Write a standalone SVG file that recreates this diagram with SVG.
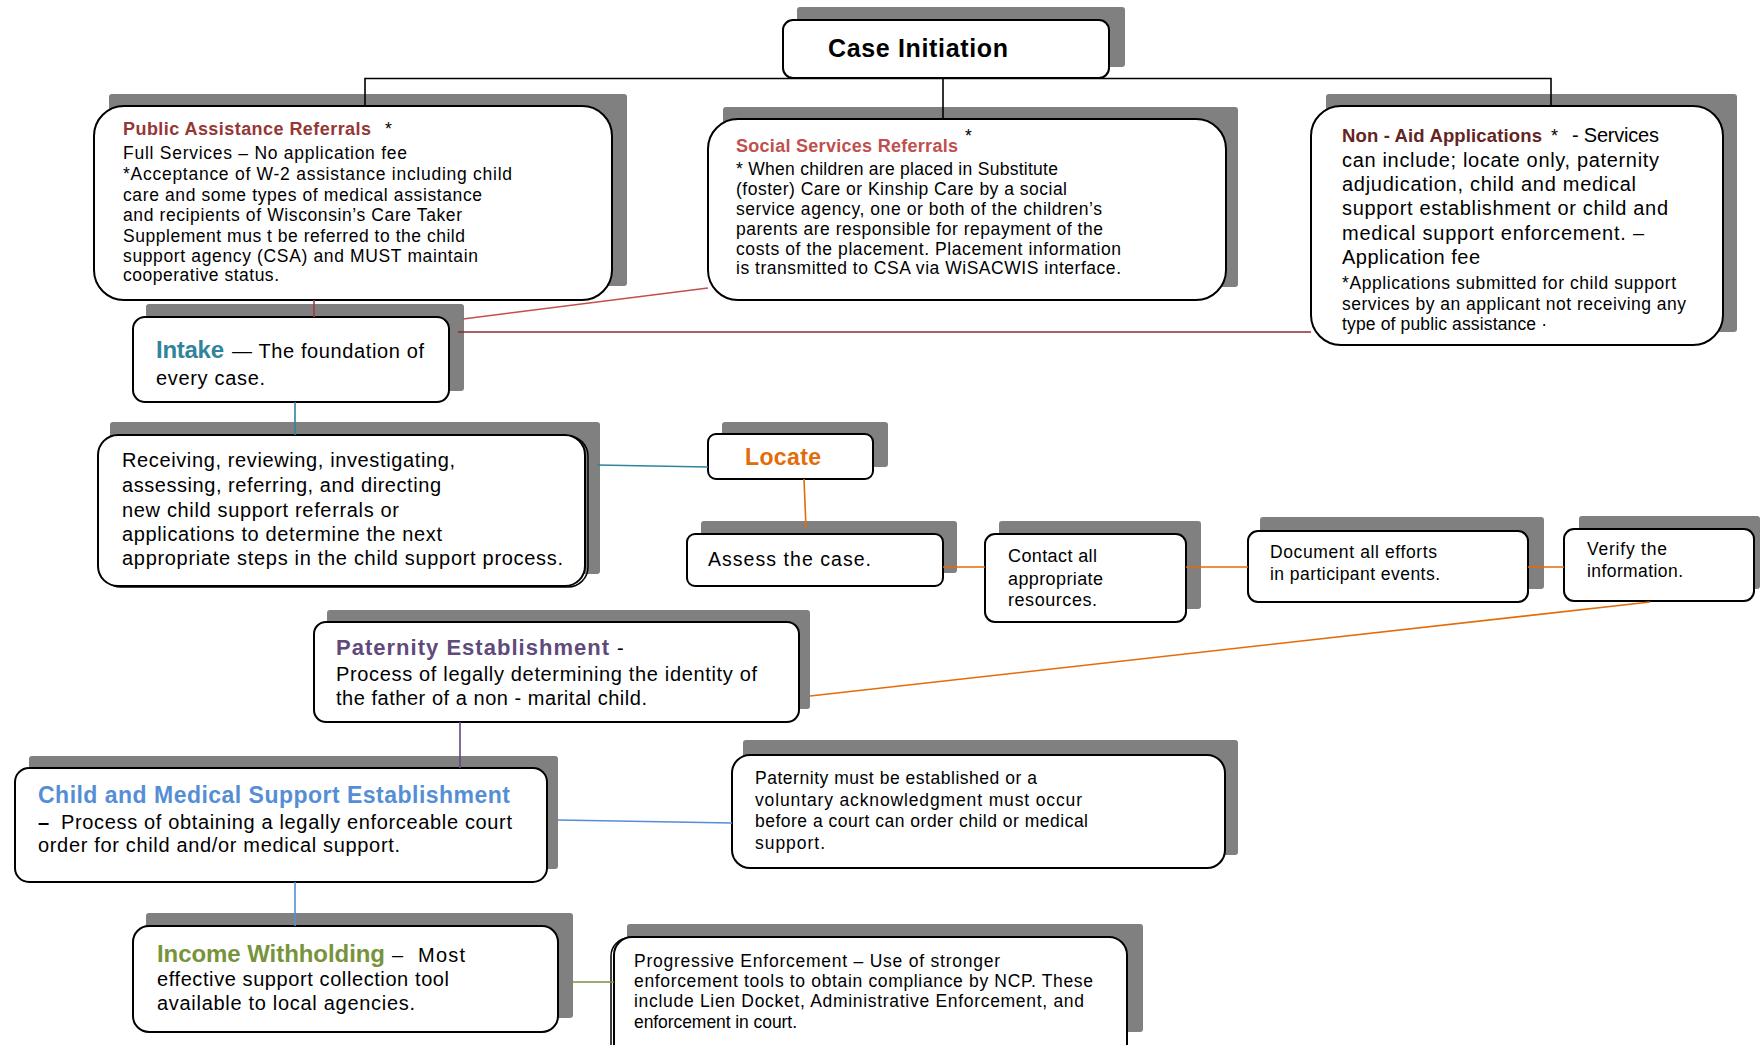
<svg xmlns="http://www.w3.org/2000/svg" width="1760" height="1045" viewBox="0 0 1760 1045">
<style>
.sh{fill:#808080}
.bx{fill:#fff;stroke:#000;stroke-width:2}
.ol{fill:none;stroke:#000;stroke-width:1.5}
text{font-family:"Liberation Sans",Arial,sans-serif;fill:#000}
.b{font-weight:bold}
.s16{font-size:17.5px}
.s17{font-size:18px}
.s19{font-size:20px}
.s23{font-size:23px}
.c{fill:none;stroke-width:1.6}
</style>
<rect width="1760" height="1045" fill="#fff"/>

<g id="case-initiation">
<rect class="sh" x="797" y="7" width="328" height="60" rx="3"/>
<rect class="bx" x="783" y="20" width="326" height="58" rx="10"/>
<text class="b" x="828" y="57" font-size="25" textLength="180" lengthAdjust="spacing">Case Initiation</text>
</g>

<g id="public-assistance">
<rect class="sh" x="109" y="94" width="518" height="192" rx="3"/>
<rect class="bx" x="94" y="106" width="518" height="194" rx="30"/>
<text class="b" x="123" y="135" font-size="18" style="fill:#953735" textLength="248" lengthAdjust="spacing">Public Assistance Referrals</text>
<text class="s16" x="385" y="135">*</text>
<text class="s16" x="123" y="159" textLength="284" lengthAdjust="spacing">Full Services –  No application fee</text>
<text class="s16" x="123" y="180" textLength="389" lengthAdjust="spacing">*Acceptance of  W-2 assistance including child</text>
<text class="s16" x="123" y="201" textLength="359" lengthAdjust="spacing">care and some types of medical assistance</text>
<text class="s16" x="123" y="221" textLength="339" lengthAdjust="spacing">and recipients of Wisconsin’s Care Taker</text>
<text class="s16" x="123" y="242" textLength="342" lengthAdjust="spacing">Supplement mus t be referred to the child</text>
<text class="s16" x="123" y="262" textLength="355" lengthAdjust="spacing">support agency (CSA) and MUST maintain</text>
<text class="s16" x="123" y="281" textLength="156" lengthAdjust="spacing">cooperative status.</text>
</g>

<g id="social-services">
<rect class="sh" x="723" y="107" width="515" height="180" rx="3"/>
<rect class="bx" x="708" y="119" width="518" height="181" rx="30"/>
<text class="b" x="736" y="152" font-size="18" style="fill:#C0504D" textLength="222" lengthAdjust="spacing">Social Services Referrals</text>
<text class="s16" x="965" y="142">*</text>
<text class="s16" x="736" y="175" textLength="322" lengthAdjust="spacing">* When children are placed in Substitute</text>
<text class="s16" x="736" y="195" textLength="331" lengthAdjust="spacing">(foster) Care or Kinship Care by a social</text>
<text class="s16" x="736" y="215" textLength="366" lengthAdjust="spacing">service agency, one or both of the children’s</text>
<text class="s16" x="736" y="235" textLength="367" lengthAdjust="spacing">parents are responsible for repayment of the</text>
<text class="s16" x="736" y="255" textLength="385" lengthAdjust="spacing">costs of the placement. Placement information</text>
<text class="s16" x="736" y="274" textLength="385" lengthAdjust="spacing">is transmitted to CSA via WiSACWIS interface.</text>
</g>

<g id="non-aid">
<rect class="sh" x="1326" y="94" width="411" height="238" rx="3"/>
<rect class="bx" x="1311" y="106" width="412" height="239" rx="30"/>
<text class="b" x="1342" y="142" font-size="18.5" style="fill:#632523" textLength="200" lengthAdjust="spacing">Non - Aid Applications</text>
<text class="s17" x="1551" y="142">*</text>
<text class="s19" x="1572" y="142" textLength="87" lengthAdjust="spacing">- Services</text>
<text class="s19" x="1342" y="167" textLength="317" lengthAdjust="spacing">can include; locate only, paternity</text>
<text class="s19" x="1342" y="191" textLength="294" lengthAdjust="spacing">adjudication, child and medical</text>
<text class="s19" x="1342" y="215" textLength="326" lengthAdjust="spacing">support establishment or child and</text>
<text class="s19" x="1342" y="240" textLength="302" lengthAdjust="spacing">medical support enforcement. –</text>
<text class="s19" x="1342" y="264" textLength="138" lengthAdjust="spacing">Application fee</text>
<text class="s16" x="1342" y="289" textLength="334" lengthAdjust="spacing">*Applications submitted for child support</text>
<text class="s16" x="1342" y="310" textLength="344" lengthAdjust="spacing">services by an applicant not receiving any</text>
<text class="s16" x="1342" y="330" textLength="205" lengthAdjust="spacing">type of public assistance ·</text>
</g>

<g id="intake">
<rect class="sh" x="146" y="304" width="318" height="87" rx="3"/>
<rect class="bx" x="133" y="317" width="316" height="85" rx="12"/>
<text class="b" x="156" y="358" font-size="24" style="fill:#31849B" textLength="68" lengthAdjust="spacing">Intake</text>
<text class="s19" x="232" y="358" textLength="192" lengthAdjust="spacing">— The foundation of</text>
<text class="s19" x="156" y="385" textLength="109" lengthAdjust="spacing">every case.</text>
</g>

<g id="intake-detail">
<rect class="sh" x="110" y="422" width="490" height="152" rx="3"/>
<rect class="ol" x="101" y="436" width="487" height="151" rx="20"/>
<rect class="bx" x="98" y="435" width="487" height="151" rx="20"/>
<text class="s19" x="122" y="467" textLength="333" lengthAdjust="spacing">Receiving, reviewing, investigating,</text>
<text class="s19" x="122" y="492" textLength="319" lengthAdjust="spacing">assessing, referring, and directing</text>
<text class="s19" x="122" y="517" textLength="277" lengthAdjust="spacing">new child support referrals or</text>
<text class="s19" x="122" y="541" textLength="320" lengthAdjust="spacing">applications to determine the next</text>
<text class="s19" x="122" y="565" textLength="441" lengthAdjust="spacing">appropriate steps in the child support process.</text>
</g>

<g id="locate">
<rect class="sh" x="722" y="422" width="166" height="45" rx="3"/>
<rect class="bx" x="708" y="434" width="165" height="45" rx="8"/>
<text class="b s23" x="745" y="465" style="fill:#E36C09" textLength="76" lengthAdjust="spacing">Locate</text>
</g>

<g id="assess">
<rect class="sh" x="701" y="521" width="256" height="52" rx="3"/>
<rect class="bx" x="687" y="534" width="256" height="52" rx="8"/>
<text x="708" y="566" font-size="19.5" textLength="163" lengthAdjust="spacing">Assess the case.</text>
</g>

<g id="contact">
<rect class="sh" x="999" y="521" width="202" height="88" rx="3"/>
<rect class="bx" x="985" y="534" width="201" height="88" rx="10"/>
<text class="s17" x="1008" y="562" textLength="89" lengthAdjust="spacing">Contact all</text>
<text class="s17" x="1008" y="585" textLength="95" lengthAdjust="spacing">appropriate</text>
<text class="s17" x="1008" y="606" textLength="89" lengthAdjust="spacing">resources.</text>
</g>

<g id="document">
<rect class="sh" x="1260" y="517" width="284" height="72" rx="3"/>
<rect class="bx" x="1248" y="531" width="280" height="71" rx="10"/>
<text class="s16" x="1270" y="558" textLength="167" lengthAdjust="spacing">Document all efforts</text>
<text class="s16" x="1270" y="580" textLength="170" lengthAdjust="spacing">in participant events.</text>
</g>

<g id="verify">
<rect class="sh" x="1579" y="516" width="181" height="73" rx="3"/>
<rect class="bx" x="1564" y="529" width="190" height="72" rx="10"/>
<text class="s16" x="1587" y="555" textLength="80" lengthAdjust="spacing">Verify the</text>
<text class="s16" x="1587" y="577" textLength="96" lengthAdjust="spacing">information.</text>
</g>

<g id="paternity">
<rect class="sh" x="327" y="610" width="483" height="99" rx="3"/>
<rect class="bx" x="314" y="622" width="485" height="100" rx="12"/>
<text class="b" x="336" y="655" font-size="22" style="fill:#604A7B" textLength="273" lengthAdjust="spacing">Paternity Establishment</text>
<text class="s19" x="617" y="655">-</text>
<text class="s19" x="336" y="681" textLength="421" lengthAdjust="spacing">Process of legally determining the identity of</text>
<text class="s19" x="336" y="705" textLength="311" lengthAdjust="spacing">the father of a non - marital child.</text>
</g>

<g id="child-medical">
<rect class="sh" x="29" y="756" width="529" height="113" rx="3"/>
<rect class="bx" x="15" y="768" width="532" height="114" rx="14"/>
<text class="b s23" x="38" y="803" style="fill:#558ED5" textLength="472" lengthAdjust="spacing">Child and Medical Support Establishment</text>
<text class="b s19" x="38" y="829">–</text>
<text class="s19" x="61" y="829" textLength="451" lengthAdjust="spacing">Process of obtaining a legally enforceable court</text>
<text class="s19" x="38" y="852" textLength="362" lengthAdjust="spacing">order for child and/or medical support.</text>
</g>

<g id="paternity-note">
<rect class="sh" x="743" y="740" width="495" height="115" rx="3"/>
<rect class="bx" x="732" y="755" width="493" height="113" rx="18"/>
<text class="s16" x="755" y="784" textLength="282" lengthAdjust="spacing">Paternity must be established or a</text>
<text class="s16" x="755" y="806" textLength="327" lengthAdjust="spacing">voluntary acknowledgment must occur</text>
<text class="s16" x="755" y="827" textLength="333" lengthAdjust="spacing">before a court can order child or medical</text>
<text class="s16" x="755" y="849" textLength="70" lengthAdjust="spacing">support.</text>
</g>

<g id="income-withholding">
<rect class="sh" x="146" y="913" width="427" height="105" rx="3"/>
<rect class="bx" x="133" y="926" width="425" height="106" rx="16"/>
<text class="b" x="157" y="962" font-size="24" style="fill:#77933C" textLength="228" lengthAdjust="spacing">Income Withholding</text>
<text class="s19" x="392" y="962">–</text>
<text class="s19" x="418" y="962" textLength="47" lengthAdjust="spacing">Most</text>
<text class="s19" x="157" y="986" textLength="292" lengthAdjust="spacing">effective support collection tool</text>
<text class="s19" x="157" y="1010" textLength="258" lengthAdjust="spacing">available to local agencies.</text>
</g>

<g id="progressive-enforcement">
<rect class="sh" x="627" y="924" width="516" height="108" rx="3"/>
<rect class="ol" x="611" y="938" width="513" height="125" rx="18"/>
<rect class="bx" x="614" y="937" width="513" height="125" rx="18"/>
<text class="s16" x="634" y="967" textLength="366" lengthAdjust="spacing">Progressive Enforcement  – Use of stronger</text>
<text class="s16" x="634" y="987" textLength="459" lengthAdjust="spacing">enforcement tools to obtain compliance by NCP. These</text>
<text class="s16" x="634" y="1007" textLength="450" lengthAdjust="spacing">include Lien Docket, Administrative Enforcement, and</text>
<text class="s16" x="634" y="1028" textLength="163" lengthAdjust="spacing">enforcement in court.</text>
</g>

<g id="connectors">
<path class="c" stroke="#000" d="M365,106 V78.5 H1551 V106 M943,78.5 V119"/>
<path class="c" stroke="#A03C3C" d="M314,300 V317"/>
<path class="c" stroke="#C0504D" d="M708,288 L463,319"/>
<path class="c" stroke="#8B2B2B" d="M1311,332 H458"/>
<path class="c" stroke="#31849B" d="M295,402 V435 M597,465 L708,467"/>
<path class="c" stroke="#E36C09" d="M804,479 L806,528 M943,567 H985 M1186,567 H1248 M1528,567 H1564 M1650,602 L810,696"/>
<path class="c" stroke="#604A7B" d="M460,722 V768"/>
<path class="c" stroke="#558ED5" d="M558,820 L732,823 M295,882 V926"/>
<path class="c" stroke="#77933C" d="M572,982 H614"/>
</g>
</svg>
